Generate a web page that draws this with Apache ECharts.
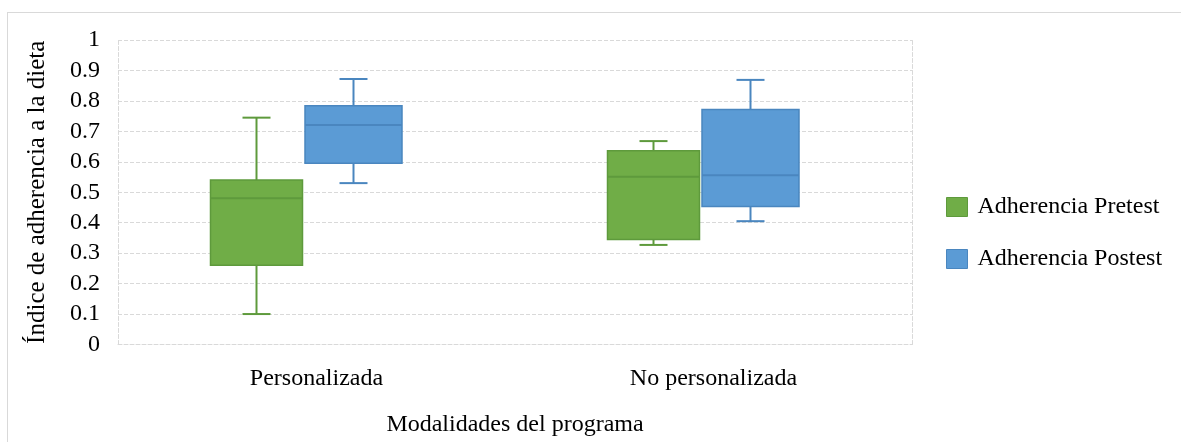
<!DOCTYPE html>
<html>
<head>
<meta charset="utf-8">
<title>Adherencia a la dieta</title>
<script src="https://cdn.jsdelivr.net/npm/echarts@6/dist/echarts.min.js"></script>
<style>
  html, body { margin: 0; padding: 0; background: #fff; overflow: hidden; width: 1181px; height: 442px; }
  #frame {
    position: absolute; left: 7px; top: 12px; width: 1200px; height: 460px;
    border: 1px solid #d9d9d9; box-sizing: border-box;
  }
  #chart { position: absolute; left: 0; top: 0; width: 1181px; height: 442px; }
</style>
</head>
<body>
<div id="frame"></div>
<div id="chart"></div>
<script>
// categories and box statistics: [min, Q1, median, Q3, max]
const categories = ['Personalizada', 'No personalizada'];
const seriesNames = ['Adherencia Pretest', 'Adherencia Postest'];
const pretestStats = [
    [0.10, 0.26, 0.48, 0.54, 0.745],
    [0.327, 0.345, 0.551, 0.636, 0.668]
];
const postestStats = [
    [0.53, 0.595, 0.721, 0.784, 0.872],
    [0.405, 0.453, 0.556, 0.772, 0.869]
];
const yTicks = [0, 0.1, 0.2, 0.3, 0.4, 0.5, 0.6, 0.7, 0.8, 0.9, 1];

const font = '"Liberation Serif", "Times New Roman", serif';
const gridColor = '#d9d9d9';

const chart = echarts.init(document.getElementById('chart'));

// box drawn with custom series; offset/width are in pixels from the category centre
const makeBox = (fill, stroke, offset, width) => (params, api) => {
    const cat = api.value(0);
    const cx = api.coord([cat, 0])[0] + offset;
    const y = (i) => api.coord([cat, api.value(i)])[1];
    const yMin = y(1), yQ1 = y(2), yMed = y(3), yQ3 = y(4), yMax = y(5);
    const left = cx - width / 2;
    const cap = 14;
    const lineStyle = {stroke: stroke, lineWidth: 2};
    return {
        type: 'group',
        children: [
            {type: 'line', shape: {x1: cx, y1: yQ3, x2: cx, y2: yMax}, style: lineStyle},
            {type: 'line', shape: {x1: cx, y1: yQ1, x2: cx, y2: yMin}, style: lineStyle},
            {type: 'line', shape: {x1: cx - cap, y1: yMax, x2: cx + cap, y2: yMax}, style: lineStyle},
            {type: 'line', shape: {x1: cx - cap, y1: yMin, x2: cx + cap, y2: yMin}, style: lineStyle},
            {
                type: 'rect',
                shape: {x: left, y: yQ3, width: width, height: yQ1 - yQ3},
                style: {fill: fill, stroke: stroke, lineWidth: 1.5}
            },
            {type: 'line', shape: {x1: left, y1: yMed, x2: left + width, y2: yMed}, style: lineStyle}
        ]
    };
};

const toData = (stats) => stats.map((s, i) => [i].concat(s));

const options = {
    animation: false,
    textStyle: {fontFamily: font},
    grid: {left: 118, top: 40, right: 269, bottom: 97.5},
    legend: {
        orient: 'vertical',
        left: 941,
        top: 190,
        itemWidth: 21,
        itemHeight: 19,
        itemGap: 28,
        icon: 'rect',
        textStyle: {fontFamily: font, fontSize: 24, color: '#000', padding: [0, 0, 0, 5], lineHeight: 24},
        data: [
            {name: seriesNames[0], itemStyle: {color: '#70ad47', borderColor: '#5e9a3c', borderWidth: 1}},
            {name: seriesNames[1], itemStyle: {color: '#5b9bd5', borderColor: '#4a86bf', borderWidth: 1}}
        ]
    },
    xAxis: {
        type: 'category',
        data: categories,
        name: 'Modalidades del programa',
        nameLocation: 'middle',
        nameGap: 68,
        nameTextStyle: {fontFamily: font, fontSize: 24, color: '#000'},
        axisLine: {lineStyle: {color: gridColor, type: 'dashed'}},
        axisTick: {show: false},
        axisLabel: {fontFamily: font, fontSize: 24, color: '#000', margin: 22}
    },
    yAxis: [
        {
            type: 'value',
            min: 0,
            max: 1,
            interval: 0.1,
            name: 'Índice de adherencia a la dieta',
            nameLocation: 'middle',
            nameGap: 68,
            nameTextStyle: {fontFamily: font, fontSize: 25, color: '#000'},
            axisLine: {show: true, lineStyle: {color: gridColor, type: 'dashed'}},
            axisTick: {show: false},
            axisLabel: {
                fontFamily: font, fontSize: 24, color: '#000', margin: 18,
                formatter: (v) => yTicks.indexOf(Math.round(v * 10) / 10) >= 0 ? String(Math.round(v * 10) / 10) : ''
            },
            splitLine: {lineStyle: {color: gridColor, type: 'dashed', width: 1}}
        },
        {
            type: 'value',
            min: 0,
            max: 1,
            position: 'right',
            axisLine: {show: true, lineStyle: {color: gridColor, type: 'dashed'}},
            axisTick: {show: false},
            axisLabel: {show: false},
            splitLine: {show: false}
        }
    ],
    series: [
        {
            name: seriesNames[0],
            type: 'custom',
            itemStyle: {color: '#70ad47'},
            renderItem: makeBox('#70ad47', '#5e9a3c', -60, 92),
            encode: {x: 0, y: [1, 2, 3, 4, 5]},
            data: toData(pretestStats)
        },
        {
            name: seriesNames[1],
            type: 'custom',
            itemStyle: {color: '#5b9bd5'},
            renderItem: makeBox('#5b9bd5', '#4a86bf', 37, 97),
            encode: {x: 0, y: [1, 2, 3, 4, 5]},
            data: toData(postestStats)
        }
    ]
};

chart.setOption(options);
</script>
</body>
</html>
